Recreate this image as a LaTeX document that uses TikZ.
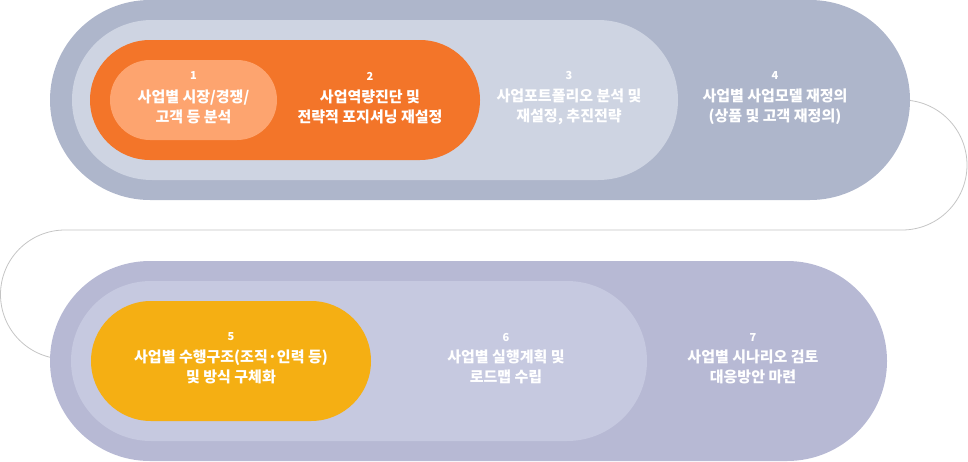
\documentclass[tikz,border=0pt]{standalone}
\usepackage{fontspec}
\newfontfamily\kr{Noto Sans CJK KR}
\definecolor{topOuter}{HTML}{AEB6CB}
\definecolor{topInner}{HTML}{CED4E2}
\definecolor{botOuter}{HTML}{B7B9D4}
\definecolor{botInner}{HTML}{C6C9E0}
\definecolor{orangeA}{HTML}{F37529}
\definecolor{orangeB}{HTML}{FDA46F}
\definecolor{yellowA}{HTML}{F5AF13}
\definecolor{connGray}{HTML}{C4C4C4}
\tikzset{
  pill/.style={draw=none, inner sep=0pt, outer sep=0pt, shape=rectangle},
  lbl/.style={text=white, align=center, inner sep=0pt,
    font=\kr\bfseries\fontsize{15}{20}\selectfont},
  num/.style={text=white, inner sep=0pt, font=\kr\bfseries\fontsize{11}{12}\selectfont},
  conn/.style={draw=connGray, line width=0.8pt},
}
\begin{document}
\begin{tikzpicture}[x=1pt,y=-1pt]
\useasboundingbox (0,0) rectangle (968,461);
\path (480,100) coordinate (c1) (468.5,361) coordinate (c2);
% connector behind
\draw[conn] (c1) -- (902,100) arc[start angle=-90,end angle=90,radius=65]
  -- (65,230) arc[start angle=-90,end angle=-270,radius=64.5] -- (c2);
% top row
\node[pill, fill=topOuter, minimum width=860pt, minimum height=200pt, rounded corners=100pt] (o1) at (c1) {};
\node[pill, fill=topInner, minimum width=606pt, minimum height=160pt, rounded corners=80pt] (i1) at (375,100) {};
\node[pill, fill=orangeA, minimum width=390pt, minimum height=120pt, rounded corners=60pt] (p2) at (285,100) {};
\node[pill, fill=orangeB, minimum width=167pt, minimum height=80pt, rounded corners=40pt] (p1) at (193.5,100) {};
% bottom row
\node[pill, fill=botOuter, minimum width=837pt, minimum height=200pt, rounded corners=100pt] (o2) at (c2) {};
\node[pill, fill=botInner, minimum width=576pt, minimum height=160pt, rounded corners=80pt] (i2) at (359,361) {};
\node[pill, fill=yellowA, minimum width=280pt, minimum height=120pt, rounded corners=60pt] (p5) at (231,361) {};
% texts
\node[num] (n1) at (193.5,76) {1};
\node[lbl] (t1) at (193.5,107) {사업별 시장/경쟁/\\고객 등 분석};
\node[num] (n2) at (370,76) {2};
\node[lbl] (t2) at (370,107) {사업역량진단 및\\전략적 포지셔닝 재설정};
\node[num] (n3) at (569,76) {3};
\node[lbl] (t3) at (569,107) {사업포트폴리오 분석 및\\재설정, 추진전략};
\node[num] (n4) at (775,76) {4};
\node[lbl] (t4) at (775,107) {사업별 사업모델 재정의\\(상품 및 고객 재정의)};
\node[num] (n5) at (231,337) {5};
\node[lbl] (t5) at (231,367) {사업별 수행구조(조직·인력 등)\\및 방식 구체화};
\node[num] (n6) at (506,337) {6};
\node[lbl] (t6) at (506,367) {사업별 실행계획 및\\로드맵 수립};
\node[num] (n7) at (753,337) {7};
\node[lbl] (t7) at (753,367) {사업별 시나리오 검토\\대응방안 마련};
\end{tikzpicture}
\end{document}
